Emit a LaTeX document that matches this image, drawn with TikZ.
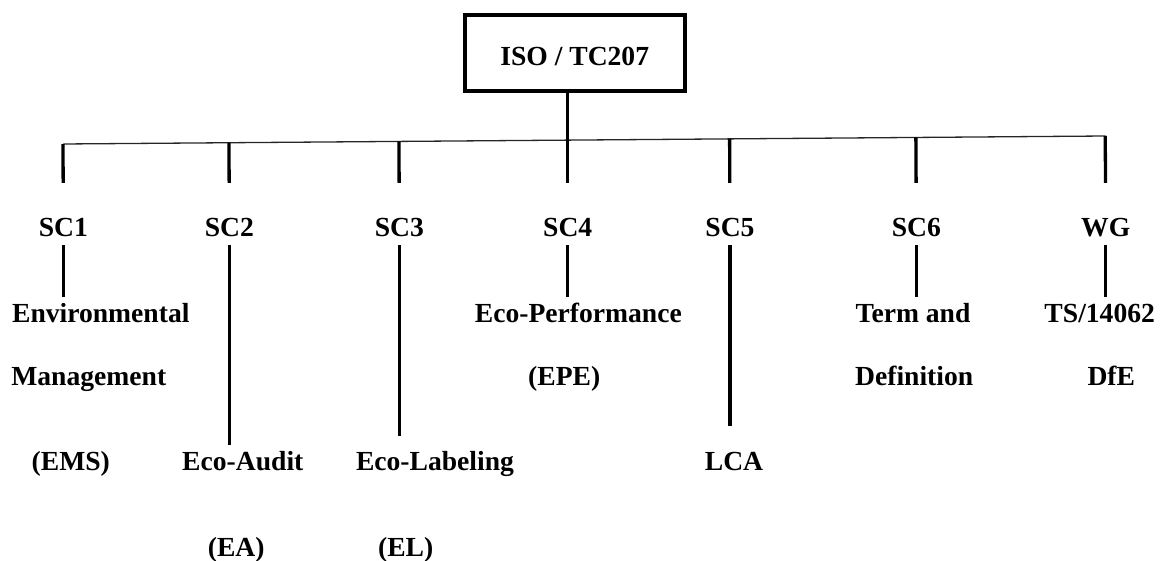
\documentclass[tikz,border=0pt]{standalone}
\usepackage{fontspec}
\setmainfont{Liberation Serif}
\usetikzlibrary{calc}
\tikzset{
  iso box/.style={
    rectangle,draw=black,line width=2pt,inner sep=0pt,
    minimum width=110pt,text height=25.2pt,text depth=12.5pt,
    font=\fontsize{13.8}{16}\selectfont\bfseries
  },
  sc label/.style={
    inner sep=0pt,text height=26.7pt,text depth=4.15pt,
    font=\fontsize{13.8}{16}\selectfont\bfseries
  },
  sc desc/.style={
    anchor=base,inner sep=0pt,outer ysep=3.3pt,text height=9.5pt,text depth=0pt,
    font=\fontsize{13.8}{16}\selectfont\bfseries
  },
  sc stub/.style={black,line width=1.65pt},
  sc bus/.style={black!85,line width=0.65pt}
}

\begin{document}
\begin{tikzpicture}[x=0.5pt,y=-0.5pt]
  \useasboundingbox (0,0) rectangle (1163,561);
  \node[iso box] (iso) at (574.7,53) {ISO / TC207};
  \coordinate (bl) at (63.3,144);
  \coordinate (br) at (1105.7,136);
  \node[sc label] (sc1) at (63.3,214.15) {SC1};
  \node[sc label] (sc2) at (229.3,214.15) {SC2};
  \node[sc label] (sc3) at (399.3,214.15) {SC3};
  \node[sc label] (sc4) at (567.7,214.15) {SC4};
  \node[sc label] (sc5) at (730,214.15) {SC5};
  \node[sc label] (sc6) at (916.3,214.15) {SC6};
  \node[sc label] (wg) at (1105.7,214.15) {WG};
  \node[sc desc] (env1) at (100.8,322.3) {Environmental};
  \node[sc desc] (env2) at (88.8,386) {Management};
  \node[sc desc] (env3) at (70.8,471) {(EMS)};
  \node[sc desc] (aud1) at (242.8,471) {Eco-Audit};
  \node[sc desc] (aud2) at (236.2,556.7) {(EA)};
  \node[sc desc] (lab1) at (435,471) {Eco-Labeling};
  \node[sc desc] (lab2) at (405.7,556.7) {(EL)};
  \node[sc desc] (perf1) at (578.3,322.3) {Eco-Performance};
  \node[sc desc] (perf2) at (564.2,386) {(EPE)};
  \node[sc desc] (lca) at (734,471) {LCA};
  \node[sc desc] (term1) at (913,322.3) {Term and};
  \node[sc desc] (term2) at (914.2,386) {Definition};
  \node[sc desc] (ts1) at (1099.7,322.3) {TS/14062};
  \node[sc desc] (ts2) at (1111.3,386) {DfE};
  \draw[sc bus] (bl)--(br);
  \draw[sc stub] (iso.south -| sc4)--(sc4);
  \foreach \s in {sc1,sc2,sc3,sc5,sc6,wg}
    \draw[sc stub] ($(bl)!(\s.north)!(br)$)--(\s);
  \draw[sc stub] (sc1)--(sc1 |- env1.north)
    (sc2)--(sc2 |- aud1.north)
    (sc4)--(sc4 |- perf1.north)
    (sc6)--(sc6 |- term1.north)
    (wg)--(wg |- ts1.north);
  \draw[sc stub,shorten >=4.9pt] (sc3)--(sc3 |- lab1.north);
  \draw[sc stub,shorten >=9.9pt] (sc5)--(sc5 |- lca.north);
\end{tikzpicture}
\end{document}
